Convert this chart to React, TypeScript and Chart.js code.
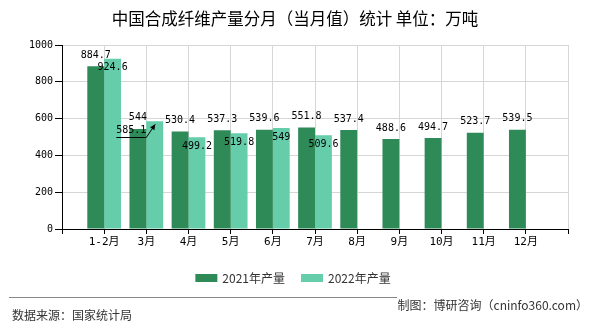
import React, { useEffect, useRef } from 'react';
import { Chart, registerables } from 'chart.js';

Chart.register(...registerables);

const categories = ['1-2月', '3月', '4月', '5月', '6月', '7月', '8月', '9月', '10月', '11月', '12月'];
const output2021 = [884.7, 544, 530.4, 537.3, 539.6, 551.8, 537.4, 488.6, 494.7, 523.7, 539.5];
const output2022 = [924.6, 585.1, 499.2, 519.8, 549, 509.6];
const seriesNames = ['2021年产量', '2022年产量'];
const yMin = 0;
const yMax = 1000;
const yStep = 200;
const titleText = '中国合成纤维产量分月（当月值）统计 单位：万吨';
const sourceText = '数据来源：国家统计局';
const creditText = '制图：博研咨询（cninfo360.com）';
const leaderCategory = '3月';

const COLORS = ['#2E8B57', '#66CDAA'];
const CJK = '"Noto Sans CJK SC", "Noto Sans", sans-serif';
const MONO = '"DejaVu Sans Mono", "Noto Sans CJK SC", monospace';

const paddedLabels = ['', ...categories, ''];
const pad = (arr: number[]) => {
  const out: (number | null)[] = [null, ...arr];
  while (out.length < paddedLabels.length) out.push(null);
  return out;
};

const valueLabels = {
  id: 'valueLabels',
  afterDatasetsDraw(chart: any) {
    const ctx = chart.ctx;
    ctx.save();
    ctx.font = '10px ' + MONO;
    ctx.fillStyle = '#000';
    ctx.strokeStyle = '#000';
    ctx.textAlign = 'center';
    ctx.textBaseline = 'middle';
    chart.data.datasets.forEach((ds: any, di: number) => {
      const meta = chart.getDatasetMeta(di);
      meta.data.forEach((bar: any, i: number) => {
        const v = ds.data[i];
        if (v == null) return;
        const text = String(v);
        const cat = chart.data.labels[i];
        if (di === 0) {
          ctx.fillText(text, bar.x, bar.y - 11);
        } else if (cat === leaderCategory) {
          const tx = bar.x - 23.5;
          const ty = bar.y + 9;
          ctx.fillText(text, tx, ty);
          const uy = Math.round(bar.y + 16) + 0.5;
          ctx.lineWidth = 1;
          ctx.beginPath();
          ctx.moveTo(bar.x - 38.5, uy);
          ctx.lineTo(bar.x - 8.5, uy);
          const ex = bar.x + 0.5;
          const ey = bar.y + 3;
          ctx.lineTo(ex, ey);
          ctx.stroke();
          const ang = Math.atan2(ey - uy, ex - (bar.x - 8.5));
          ctx.beginPath();
          ctx.moveTo(ex, ey);
          ctx.lineTo(ex - 6 * Math.cos(ang - 0.45), ey - 6 * Math.sin(ang - 0.45));
          ctx.lineTo(ex - 6 * Math.cos(ang + 0.45), ey - 6 * Math.sin(ang + 0.45));
          ctx.closePath();
          ctx.fill();
        } else {
          ctx.fillText(text, bar.x, bar.y + 9);
        }
      });
    });
    ctx.restore();
  },
};

const decorations = {
  id: 'decorations',
  afterDraw(chart: any) {
    const ctx = chart.ctx;
    const W = chart.width;
    ctx.save();
    // title
    ctx.fillStyle = '#000';
    ctx.font = '16.5px ' + CJK;
    ctx.textAlign = 'center';
    ctx.textBaseline = 'middle';
    ctx.fillText(titleText, W / 2, 19);

    // legend
    ctx.font = '12px ' + CJK;
    const boxW = 22;
    const boxH = 8;
    const gap = 5;
    const itemGap = 16;
    const widths = seriesNames.map((n) => ctx.measureText(n).width);
    const total = widths.reduce((s, w) => s + boxW + gap + w, 0) + itemGap * (seriesNames.length - 1);
    let x = W / 2 - 2 - total / 2;
    const ly = 278;
    ctx.textAlign = 'left';
    seriesNames.forEach((n, i) => {
      ctx.fillStyle = COLORS[i];
      ctx.fillRect(x, ly - boxH / 2, boxW, boxH);
      ctx.fillStyle = '#333';
      ctx.fillText(n, x + boxW + gap, ly);
      x += boxW + gap + widths[i] + itemGap;
    });

    // footer
    ctx.strokeStyle = '#888';
    ctx.lineWidth = 1;
    ctx.beginPath();
    ctx.moveTo(9, 297.5);
    ctx.lineTo(397, 297.5);
    ctx.stroke();
    ctx.fillStyle = '#333';
    ctx.font = '12px ' + CJK;
    ctx.textAlign = 'left';
    ctx.fillText(sourceText, 12, 315);
    ctx.textAlign = 'right';
    ctx.fillText(creditText, 588, 305);
    ctx.restore();
  },
};

export default function App() {
  const ref = useRef<HTMLCanvasElement | null>(null);
  useEffect(() => {
    if (!ref.current) return;
    const chart = new Chart(ref.current, {
      type: 'bar',
      data: {
        labels: paddedLabels,
        datasets: [
          {
            label: seriesNames[0],
            data: pad(output2021),
            backgroundColor: COLORS[0],
            categoryPercentage: 0.8,
            barPercentage: 1.0,
          },
          {
            label: seriesNames[1],
            data: pad(output2022),
            backgroundColor: COLORS[1],
            categoryPercentage: 0.8,
            barPercentage: 1.0,
          },
        ],
      },
      options: {
        responsive: false,
        animation: false,
        devicePixelRatio: 1,
        layout: { padding: { left: 0, right: 22, top: 45, bottom: 81 } },
        plugins: {
          legend: { display: false },
          title: { display: false },
          tooltip: { enabled: false },
        },
        scales: {
          x: {
            type: 'category',
            offset: false,
            afterFit: (s: any) => {
              s.height = 20;
            },
            grid: {
              offset: false,
              color: '#d6d6d6',
              tickColor: '#000',
              tickLength: 5,
              drawTicks: true,
            },
            border: { color: '#000', width: 1 },
            ticks: {
              autoSkip: false,
              maxRotation: 0,
              padding: 2,
              color: '#000',
              font: { family: MONO, size: 11 },
            },
          },
          y: {
            min: yMin,
            max: yMax,
            afterFit: (s: any) => {
              s.width = 62;
            },
            grid: {
              color: '#d6d6d6',
              tickColor: '#000',
              tickLength: 7,
            },
            border: { color: '#000', width: 1 },
            ticks: {
              stepSize: yStep,
              padding: 2,
              color: '#000',
              font: { family: MONO, size: 10 },
              callback: (v: any) => String(v),
            },
          },
        },
      },
      plugins: [valueLabels, decorations],
    } as any);
    return () => chart.destroy();
  }, []);
  return (
    <div style={{ position: 'absolute', left: 0, top: 0, width: 590, height: 330, background: '#fff' }}>
      <canvas ref={ref} width={590} height={330} />
    </div>
  );
}
